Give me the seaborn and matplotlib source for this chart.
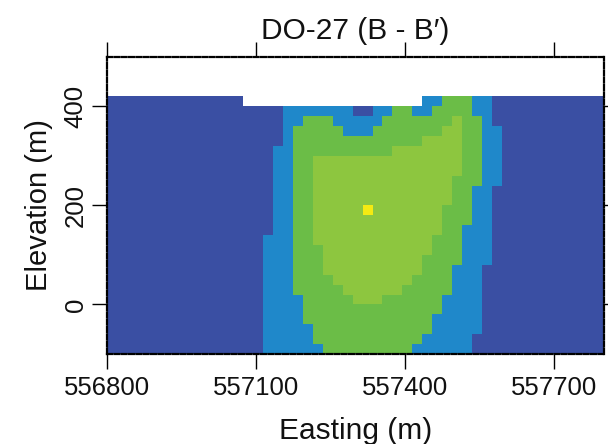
import numpy as np
import pandas as pd
import matplotlib
matplotlib.use("Agg")
import matplotlib.pyplot as plt
from matplotlib.colors import ListedColormap
import seaborn as sns

# Block-model grid along section B - B'
x_origin = 556794        # west edge of column 0 (m)
cell = 20                # block size (m)
n_cols = 51
top_edge = 420           # top of the highest block row (m)

# Bottom elevation of each block row, top to bottom
elevation = [400, 380, 360, 340, 320, 300, 280, 260, 240, 220, 200, 180, 160,
             140, 120, 100, 80, 60, 40, 20, 0, -20, -40, -60, -80, -100]

# Column ranges [from, to) for each class per row
blue_from = [32, 18, 18, 18, 18, 17, 17, 17, 17, 17, 17, 17, 17,
             17, 16, 16, 16, 16, 16, 16, 16, 16, 16, 16, 16, 16]
blue_to = [39, 39, 39, 40, 40, 40, 40, 40, 40, 39, 39, 39, 39,
           39, 39, 39, 39, 38, 38, 38, 38, 38, 38, 38, 37, 37]
green_from = [34, 29, 20, 19, 19, 19, 19, 19, 19, 19, 19, 19, 19,
              19, 19, 19, 19, 19, 19, 19, 20, 20, 20, 21, 21, 22]
green_to = [37, 37, 38, 38, 38, 38, 38, 38, 38, 37, 37, 37, 37,
            36, 36, 36, 36, 35, 35, 35, 34, 34, 33, 33, 32, 31]
light_from = [0, 0, 35, 34, 32, 29, 21, 21, 21, 21, 21, 21, 21,
              21, 21, 22, 22, 22, 23, 24, 25, 0, 0, 0, 0, 0]
light_to = [0, 0, 36, 36, 36, 36, 36, 36, 35, 35, 35, 34, 34,
            34, 33, 33, 32, 32, 31, 30, 28, 0, 0, 0, 0, 0]

# Isolated pockets: row elevation, first column, last column, class
pocket_elev = [380, 380, 360, 340, 180]
pocket_first = [25, 31, 23, 24, 26]
pocket_last = [26, 32, 27, 26, 26]
pocket_class = [0, 1, 1, 1, 4]

# Columns above the lowered surface (no blocks in the top row)
gap_elev = 400
gap_first, gap_last = 14, 31

class_colors = ["#3a4fa3", "#1f88ca", "#6bbd47", "#8dc63f", "#f4ea12"]

x_ticks = [556800, 557100, 557400, 557700]
y_ticks = [0, 200, 400]
x_range = (556800, 557800)
y_range = (-100, 500)

# Assemble class grid
grid = np.zeros((len(elevation), n_cols))
for i in range(len(elevation)):
    grid[i, blue_from[i]:blue_to[i]] = 1
    grid[i, green_from[i]:green_to[i]] = 2
    grid[i, light_from[i]:light_to[i]] = 3
for z, a, b, k in zip(pocket_elev, pocket_first, pocket_last, pocket_class):
    grid[elevation.index(z), a:b + 1] = k
grid[elevation.index(gap_elev), gap_first:gap_last + 1] = np.nan

centers = [x_origin + cell * (c + 0.5) for c in range(n_cols)]
df = pd.DataFrame(grid, index=elevation, columns=centers)

sns.set_style("ticks")
plt.rcParams["font.family"] = ["Liberation Sans", "DejaVu Sans"]

fig = plt.figure(figsize=(6.08, 4.44), dpi=100)
ax = fig.add_axes([0.1765, 0.2027, 0.8169, 0.6696])

sns.heatmap(df, cmap=ListedColormap(class_colors), vmin=-0.5, vmax=4.5,
            cbar=False, xticklabels=False, yticklabels=False, ax=ax)


def xpos(e):
    return (e - x_origin) / cell


def ypos(z):
    return (top_edge - z) / cell


ax.set_xlim(xpos(x_range[0]), xpos(x_range[1]))
ax.set_ylim(ypos(y_range[0]), ypos(y_range[1]))

ax.set_xticks([xpos(v) for v in x_ticks])
ax.set_xticklabels([str(v) for v in x_ticks])
ax.set_yticks([ypos(v) for v in y_ticks])
ax.set_yticklabels([str(v) for v in y_ticks], rotation=90, va="center")

ax.tick_params(axis="both", direction="out", length=11, width=1.0,
               color="black", labelsize=18.5, labelcolor="#111111",
               top=True, right=True, labeltop=False, labelright=False)
ax.tick_params(axis="x", pad=5)
ax.tick_params(axis="y", pad=3)

for sp in ax.spines.values():
    sp.set_visible(True)
    sp.set_color("black")
    sp.set_linewidth(1.6)
    sp.set_linestyle((0, (2.2, 1.1)))

ax.set_xlabel("Easting (m)", fontsize=21.5, labelpad=12, color="#111111")
ax.set_ylabel("Elevation (m)", fontsize=21, labelpad=8, color="#111111")
ax.set_title("DO-27 (B - B\u2032)", fontsize=21.5, pad=13, color="#111111")

fig.savefig("out.png", dpi=100)
